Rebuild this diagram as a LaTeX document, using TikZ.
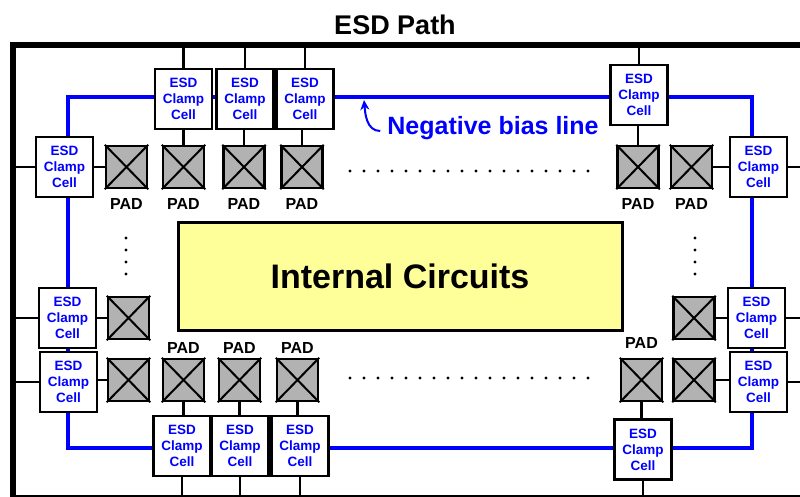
\documentclass[tikz,border=0pt]{standalone}
\usepackage{fontspec}
\setmainfont{Liberation Sans}
\usetikzlibrary{positioning,arrows.meta}
\definecolor{esdblue}{RGB}{0,0,255}
\definecolor{padgray}{RGB}{178,178,178}
\definecolor{coreyellow}{RGB}{255,255,153}

\begin{document}
\begin{tikzpicture}[x=1pt, y=-1pt,
    clamp/.style={draw, fill=white, line width=2.5pt, minimum width=57pt, minimum height=60pt,
        inner sep=0pt, align=center, text=esdblue, font=\fontsize{13.5}{16}\selectfont\bfseries},
    pad/.style={draw, fill=padgray, line width=2.5pt, minimum width=41pt, minimum height=42pt, inner sep=0pt},
    padlbl/.style={inner sep=0pt, font=\fontsize{16}{18}\selectfont\bfseries},
    wire/.style={line width=2.5pt},
    cross/.style={line width=2pt},
    bias/.style={draw=esdblue, line width=4pt}]

    \useasboundingbox (0,0) rectangle (800,496);

    % Outer frame and negative bias line
    \draw[line width=6pt] (12.5,45) rectangle (830,497.5);
    \draw[bias] (68,97) rectangle (752,448);
    \coordinate (ftop) at (0,45);
    \coordinate (fleft) at (12.5,0);
    \coordinate (fright) at (805,0);
    \coordinate (fbot) at (0,497.5);

    \node[font=\fontsize{27}{30}\selectfont\bfseries] (title) at (395,25) {ESD Path};

    % Core
    \node[draw, fill=coreyellow, line width=3pt, minimum width=444pt, minimum height=108pt,
        font=\fontsize{34}{40}\selectfont\bfseries] (core) at (400,276) {Internal Circuits};

    % Pads
    \node[pad] (pt1) at (126.5,167) {};
    \node[pad] (pt2) at (183.5,167) {};
    \node[pad] (pt3) at (244,167) {};
    \node[pad] (pt4) at (302,167) {};
    \node[pad] (pt5) at (638,167) {};
    \node[pad] (pt6) at (691.5,167) {};
    \node[pad] (pl1) at (128.5,318) {};
    \node[pad] (pl2) at (128.5,380) {};
    \node[pad] (pr1) at (694,318) {};
    \node[pad] (pr2) at (694,380) {};
    \node[pad] (pb1) at (183.5,380) {};
    \node[pad] (pb2) at (239.5,380) {};
    \node[pad] (pb3) at (297.5,380) {};
    \node[pad] (pb4) at (641.5,380) {};
    \foreach \p in {pt1,pt2,pt3,pt4,pt5,pt6,pl1,pl2,pr1,pr2,pb1,pb2,pb3,pb4}
        \draw[cross] (\p.north west) -- (\p.south east) (\p.north east) -- (\p.south west);

    % PAD labels
    \node[padlbl, below=9pt of pt1] (lt1) {PAD};
    \node[padlbl, below=9pt of pt2] (lt2) {PAD};
    \node[padlbl, below=9pt of pt3] (lt3) {PAD};
    \node[padlbl, below=9pt of pt4] (lt4) {PAD};
    \node[padlbl, below=9pt of pt5] (lt5) {PAD};
    \node[padlbl, below=9pt of pt6] (lt6) {PAD};
    \node[padlbl, above=4pt of pb1] (lb1) {PAD};
    \node[padlbl, above=4pt of pb2] (lb2) {PAD};
    \node[padlbl, above=4pt of pb3] (lb3) {PAD};
    \node[padlbl, above=9pt of pb4] (lb4) {PAD};

    % ESD clamp cells
    \node[clamp] (ct1) at (183.5,99) {ESD\\Clamp\\Cell};
    \node[clamp] (ct2) at (245,99) {ESD\\Clamp\\Cell};
    \node[clamp] (ct3) at (305,99) {ESD\\Clamp\\Cell};
    \node[clamp] (ct4) at (639,95) {ESD\\Clamp\\Cell};
    \node[clamp] (cl1) at (64.5,167) {ESD\\Clamp\\Cell};
    \node[clamp] (cl2) at (67.5,318) {ESD\\Clamp\\Cell};
    \node[clamp] (cl3) at (68.5,382) {ESD\\Clamp\\Cell};
    \node[clamp] (cr1) at (758.5,167) {ESD\\Clamp\\Cell};
    \node[clamp] (cr2) at (756.5,318) {ESD\\Clamp\\Cell};
    \node[clamp] (cr3) at (758.5,382) {ESD\\Clamp\\Cell};
    \node[clamp] (cb1) at (182,446) {ESD\\Clamp\\Cell};
    \node[clamp] (cb2) at (240,446) {ESD\\Clamp\\Cell};
    \node[clamp] (cb3) at (300,446) {ESD\\Clamp\\Cell};
    \node[clamp] (cb4) at (643,449.5) {ESD\\Clamp\\Cell};

    % Clamps to frame
    \foreach \c in {ct1,ct2,ct3,ct4} \draw[wire] (\c.north) -- (\c.north |- ftop);
    \foreach \c in {cl1,cl2,cl3} \draw[wire] (\c.west) -- (\c.west -| fleft);
    \foreach \c in {cr1,cr2,cr3} \draw[wire] (\c.east) -- (\c.east -| fright);
    \foreach \c in {cb1,cb2,cb3,cb4} \draw[wire] (\c.south) -- (\c.south |- fbot);

    % Pads to clamps
    \draw[wire] (pt1.west) -- (pt1.west -| cl1.east);
    \draw[wire] (pt2.north) -- (pt2.north |- ct1.south);
    \draw[wire] (pt3.north) -- (pt3.north |- ct2.south);
    \draw[wire] (pt4.north) -- (pt4.north |- ct3.south);
    \draw[wire] (pt5.north) -- (pt5.north |- ct4.south);
    \draw[wire] (pt6.east) -- (pt6.east -| cr1.west);
    \draw[wire] (pl1.west) -- (pl1.west -| cl2.east);
    \draw[wire] (pl2.west) -- (pl2.west -| cl3.east);
    \draw[wire] (pr1.east) -- (pr1.east -| cr2.west);
    \draw[wire] (pr2.east) -- (pr2.east -| cr3.west);
    \draw[wire] (pb1.south) -- (pb1.south |- cb1.north);
    \draw[wire] (pb2.south) -- (pb2.south |- cb2.north);
    \draw[wire] (pb3.south) -- (pb3.south |- cb3.north);
    \draw[wire] (pb4.south) -- (pb4.south |- cb4.north);

    % Dots for pads left out
    \foreach \i in {0,...,17} {
        \fill (350+\i*14,171) circle (1.6pt);
        \fill (350+\i*14,378) circle (1.6pt);
    }
    \foreach \y in {238,250,262,274} {
        \fill (126,\y) circle (1.6pt);
        \fill (695,\y) circle (1.6pt);
    }

    % Bias line label
    \node[inner sep=0pt, text=esdblue, font=\fontsize{25}{28}\selectfont\bfseries] (neg) at (493,128) {Negative bias line};
    \coordinate (biastip) at (364,100);
    \draw[-{Stealth[length=10pt,width=9pt]}, line width=2pt, esdblue]
        ([xshift=-7pt,yshift=-3pt]neg.west) to[out=180, in=-85] (biastip);

\end{tikzpicture}
\end{document}
